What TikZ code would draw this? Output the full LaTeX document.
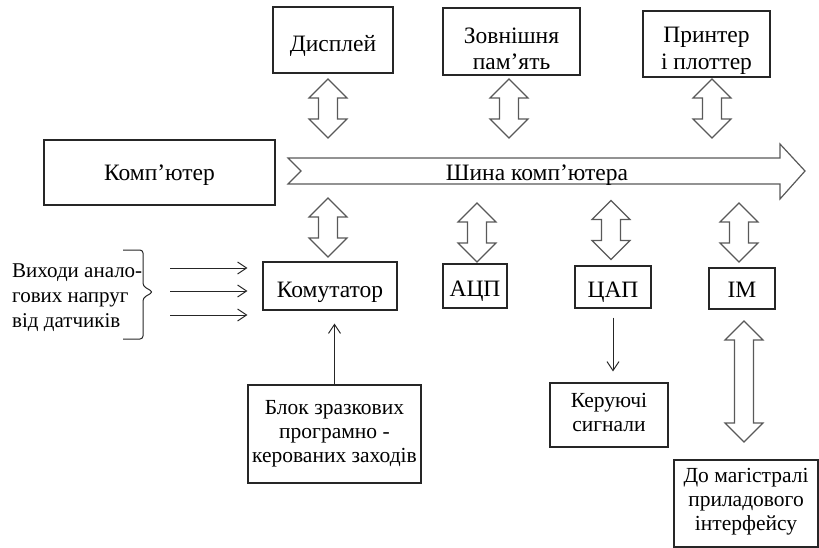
\documentclass[tikz,border=0pt]{standalone}
\usepackage{fontspec}
\setmainfont{Liberation Serif}
\usetikzlibrary{arrows.meta,calc}
\begin{document}
\begin{tikzpicture}[x=1pt,y=-1pt,
  frame/.style={draw=black!85, line width=1.1pt, inner sep=0pt},
  bigtxt/.style={font=\fontsize{23.5}{26.5}\selectfont, align=center, inner sep=0pt},
  smalltxt/.style={font=\fontsize{21.5}{24}\selectfont, align=center, inner sep=0pt},
  hollow/.style={draw=black!65, line width=1.2pt, fill=white, line join=miter},
  thinarrow/.style={draw=black!85, line width=1pt, -{Straight Barb[length=9pt,width=12pt]}},
  pics/vdbl/.style={code={
    \draw[hollow] (0,-#1) -- (19,-#1+19) -- (9.5,-#1+19) -- (9.5,#1-19) -- (19,#1-19)
      -- (0,#1) -- (-19,#1-19) -- (-9.5,#1-19) -- (-9.5,-#1+19) -- (-19,-#1+19) -- cycle;}}
]
\useasboundingbox (0,0) rectangle (819,547);

% peripheral devices on top
\node[frame, minimum width=120pt, minimum height=66pt] (disp) at (333,40) {};
\node[bigtxt, yshift=-6pt] (dispt) at (disp) {Дисплей};
\node[frame, minimum width=137pt, minimum height=67pt] (mem) at (511.5,41.5) {};
\node[bigtxt, yshift=-7.5pt] (memt) at (mem) {Зовнішня\\пам’ять};
\node[frame, minimum width=127pt, minimum height=66pt] (prn) at (706.5,44) {};
\node[bigtxt, yshift=-7pt] (prnt) at (prn) {Принтер\\і плоттер};

% computer and its bus
\node[frame, minimum width=231pt, minimum height=65pt] (comp) at (159.5,172.5) {};
\node[bigtxt, yshift=-3pt] (compt) at (comp) {Комп’ютер};
\draw[hollow] (288,158) -- (780,158) -- (780,144) -- (805,171) -- (780,199)
  -- (780,184) -- (288,184) -- (301,171) -- cycle;
\node[bigtxt] (bus) at (537,175) {Шина комп’ютера};

% bus links
\pic at (328,108.5) {vdbl=29.5};
\pic at (509,108.5) {vdbl=29.5};
\pic at (712,108.5) {vdbl=29.5};
\pic at (328,227.5) {vdbl=29.5};
\pic at (477,232.5) {vdbl=29.5};
\pic at (611,230) {vdbl=29.5};
\pic at (739,232.5) {vdbl=29.5};

% interface units
\node[frame, minimum width=134pt, minimum height=48pt] (komm) at (330,286) {};
\node[bigtxt, yshift=-6pt] (kommt) at (komm) {Комутатор};
\node[frame, minimum width=64pt, minimum height=44pt] (adc) at (475,286) {};
\node[bigtxt, yshift=-5.5pt] (adct) at (adc) {АЦП};
\node[frame, minimum width=76pt, minimum height=42pt] (dac) at (613,287) {};
\node[bigtxt, yshift=-5.5pt] (dact) at (dac) {ЦАП};
\node[frame, minimum width=66pt, minimum height=41pt] (im) at (742,288.5) {};
\node[bigtxt, yshift=-1pt] (imt) at (im) {ІМ};

% lower blocks
\node[frame, minimum width=173pt, minimum height=98pt] (blok) at (334.5,434) {};
\node[smalltxt] (blokt) at (blok) {Блок зразкових\\програмно -\\керованих заходів};
\node[frame, minimum width=118pt, minimum height=64pt] (ctrl) at (609,415) {};
\node[smalltxt, yshift=2.5pt] (ctrlt) at (ctrl) {Керуючі\\сигнали};
\node[frame, minimum width=144pt, minimum height=87pt] (mag) at (746,503.5) {};
\node[smalltxt, yshift=2pt] (magt) at (mag) {До магістралі\\приладового\\інтерфейсу};
\pic at (744,381.5) {vdbl=60.5};

% analogue inputs
\node[font=\fontsize{21}{25}\selectfont, align=left, inner sep=0pt, anchor=west] (src) at (12,298) {Виходи анало-\\гових напруг\\від датчиків};
\draw[black!85, line width=1pt, rounded corners=3pt]
  (123,250) -- (143,250) -- (143,286) -- (153,292) -- (143,298) -- (143,339) -- (123,339);
\coordinate (in1) at (170,268);
\coordinate (in2) at (170,291);
\coordinate (in3) at (170,315);
\draw[thinarrow, shorten >=15pt] (in1) -- (in1 -| komm.west);
\draw[thinarrow, shorten >=15pt] (in2) -- (in2 -| komm.west);
\draw[thinarrow, shorten >=15pt] (in3) -- (in3 -| komm.west);

% signal arrows
\draw[thinarrow, shorten >=13pt] (blok.north) -- (blok.north |- komm.south);
\draw[thinarrow, shorten <=9pt, shorten >=11pt] (dac.south) -- (dac.south |- ctrl.north);
\end{tikzpicture}
\end{document}
